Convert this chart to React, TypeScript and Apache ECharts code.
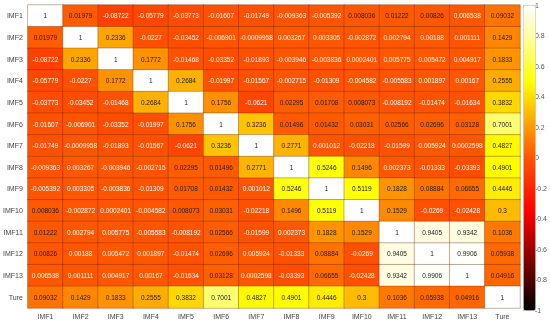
import React, { useEffect, useRef } from "react";
import * as echarts from "echarts";

const labels = ["IMF1","IMF2","IMF3","IMF4","IMF5","IMF6","IMF7","IMF8","IMF9","IMF10","IMF11","IMF12","IMF13","Ture"];

const rowIMF1 = [1, 0.01979, -0.08722, -0.05779, -0.03773, -0.01607, -0.01749, -0.009363, -0.005392, 0.008036, 0.01222, 0.00826, 0.006538, 0.09032];
const rowIMF2 = [0.01979, 1, 0.2336, -0.0227, -0.03452, -0.006901, -0.0009958, 0.003267, 0.003305, -0.002872, 0.002794, 0.00188, 0.001111, 0.1429];
const rowIMF3 = [-0.08722, 0.2336, 1, 0.1772, -0.01468, -0.03352, -0.01893, -0.003946, -0.003836, 0.0002401, 0.005775, 0.005472, 0.004917, 0.1833];
const rowIMF4 = [-0.05779, -0.0227, 0.1772, 1, 0.2684, -0.01997, -0.01567, -0.002715, -0.01309, -0.004582, -0.005583, 0.001897, 0.00167, 0.2555];
const rowIMF5 = [-0.03773, -0.03452, -0.01468, 0.2684, 1, 0.1756, -0.0621, 0.02295, 0.01708, 0.008073, -0.008192, -0.01474, -0.01634, 0.3832];
const rowIMF6 = [-0.01607, -0.006901, -0.03352, -0.01997, 0.1756, 1, 0.3236, 0.01496, 0.01432, 0.03031, 0.02566, 0.02696, 0.03128, 0.7001];
const rowIMF7 = [-0.01749, -0.0009958, -0.01893, -0.01567, -0.0621, 0.3236, 1, 0.2771, 0.001012, -0.02218, -0.01599, 0.005924, 0.0002598, 0.4827];
const rowIMF8 = [-0.009363, 0.003267, -0.003946, -0.002715, 0.02295, 0.01496, 0.2771, 1, 0.5246, 0.1496, 0.002373, -0.01333, -0.03393, 0.4901];
const rowIMF9 = [-0.005392, 0.003305, -0.003836, -0.01309, 0.01708, 0.01432, 0.001012, 0.5246, 1, 0.5119, 0.1828, 0.08884, 0.06655, 0.4446];
const rowIMF10 = [0.008036, -0.002872, 0.0002401, -0.004582, 0.008073, 0.03031, -0.02218, 0.1496, 0.5119, 1, 0.1529, -0.0269, -0.02428, 0.3];
const rowIMF11 = [0.01222, 0.002794, 0.005775, -0.005583, -0.008192, 0.02566, -0.01599, 0.002373, 0.1828, 0.1529, 1, 0.9405, 0.9342, 0.1036];
const rowIMF12 = [0.00826, 0.00188, 0.005472, 0.001897, -0.01474, 0.02696, 0.005924, -0.01333, 0.08884, -0.0269, 0.9405, 1, 0.9906, 0.05938];
const rowIMF13 = [0.006538, 0.001111, 0.004917, 0.00167, -0.01634, 0.03128, 0.0002598, -0.03393, 0.06655, -0.02428, 0.9342, 0.9906, 1, 0.04916];
const rowTure = [0.09032, 0.1429, 0.1833, 0.2555, 0.3832, 0.7001, 0.4827, 0.4901, 0.4446, 0.3, 0.1036, 0.05938, 0.04916, 1];

const rows = [rowIMF1, rowIMF2, rowIMF3, rowIMF4, rowIMF5, rowIMF6, rowIMF7, rowIMF8, rowIMF9, rowIMF10, rowIMF11, rowIMF12, rowIMF13, rowTure];

// colour stops (style)
const stops: [number, number[]][] = [
  [-1, [0, 0, 0]],
  [-0.35, [255, 0, 0]],
  [0, [255, 85, 0]],
  [0.5, [255, 255, 0]],
  [0.75, [255, 255, 140]],
  [0.95, [255, 252, 230]],
  [1, [255, 255, 255]],
];
function colorAt(v: number) {
  for (let i = 0; i < stops.length - 1; i++) {
    const [a, ca] = stops[i];
    const [b, cb] = stops[i + 1];
    if (v >= a && v <= b) {
      const t = (v - a) / (b - a);
      const c = ca.map((x, k) => Math.round(x + (cb[k] - x) * t));
      return `rgb(${c[0]},${c[1]},${c[2]})`;
    }
  }
  return "rgb(255,255,255)";
}
const palette: string[] = [];
for (let i = 0; i <= 80; i++) palette.push(colorAt(-1 + i * 0.025));

export default function App() {
  const ref = useRef<HTMLDivElement>(null);
  useEffect(() => {
    if (!ref.current) return;
    const chart = echarts.init(ref.current, null, { renderer: "svg" });
    const data: any[] = [];
    rows.forEach((row, r) => {
      row.forEach((v, c) => {
        data.push({
          value: [c, r, v],
          label: { color: v > 0.007 ? "#222" : "#fff" },
        });
      });
    });
    const font = "Liberation Sans, Arial, sans-serif";
    chart.setOption({
      animation: false,
      textStyle: { fontFamily: font },
      grid: [
        { left: 22, top: 5, width: 498, height: 303 },
        { left: 523, top: 5, width: 12, height: 305 },
      ],
      xAxis: [
        {
          type: "category",
          data: labels,
          gridIndex: 0,
          position: "bottom",
          axisLine: { show: false },
          axisTick: { show: false },
          axisLabel: { fontSize: 7, color: "#444", margin: 5, interval: 0 },
          splitLine: { show: false },
        },
        { type: "value", gridIndex: 1, show: false, min: 0, max: 1 },
      ],
      yAxis: [
        {
          type: "category",
          data: labels,
          gridIndex: 0,
          inverse: true,
          axisLine: { show: false },
          axisTick: { show: false },
          axisLabel: { fontSize: 7, color: "#444", margin: 5, interval: 0 },
        },
        {
          type: "value",
          gridIndex: 1,
          position: "right",
          min: -1,
          max: 1,
          interval: 0.2,
          axisLine: { show: false },
          axisTick: { show: true, length: 3, lineStyle: { color: "#999" } },
          axisLabel: { fontSize: 7, color: "#555", margin: 3 },
          splitLine: { show: false },
        },
      ],
      visualMap: {
        type: "continuous",
        seriesIndex: 0,
        min: -1,
        max: 1,
        calculable: false,
        show: true,
        orient: "vertical",
        left: 523,
        top: 5,
        itemWidth: 12,
        itemHeight: 305,
        padding: 0,
        text: null,
        showLabel: false,
        borderColor: "#ccc",
        borderWidth: 1,
        inRange: { color: palette },
      },
      series: [
        {
          type: "heatmap",
          xAxisIndex: 0,
          yAxisIndex: 0,
          data,
          label: {
            show: true,
            fontSize: 6.5,
            fontFamily: font,
            formatter: (p: any) => String(p.value[2]),
          },
          itemStyle: { borderColor: "rgba(110,40,0,0.45)", borderWidth: 0.8 },
          emphasis: { disabled: true },
        },
      ],
    });
    return () => chart.dispose();
  }, []);
  return (
    <div
      ref={ref}
      style={{ position: "fixed", left: 0, top: 0, width: 550, height: 323 }}
    />
  );
}
